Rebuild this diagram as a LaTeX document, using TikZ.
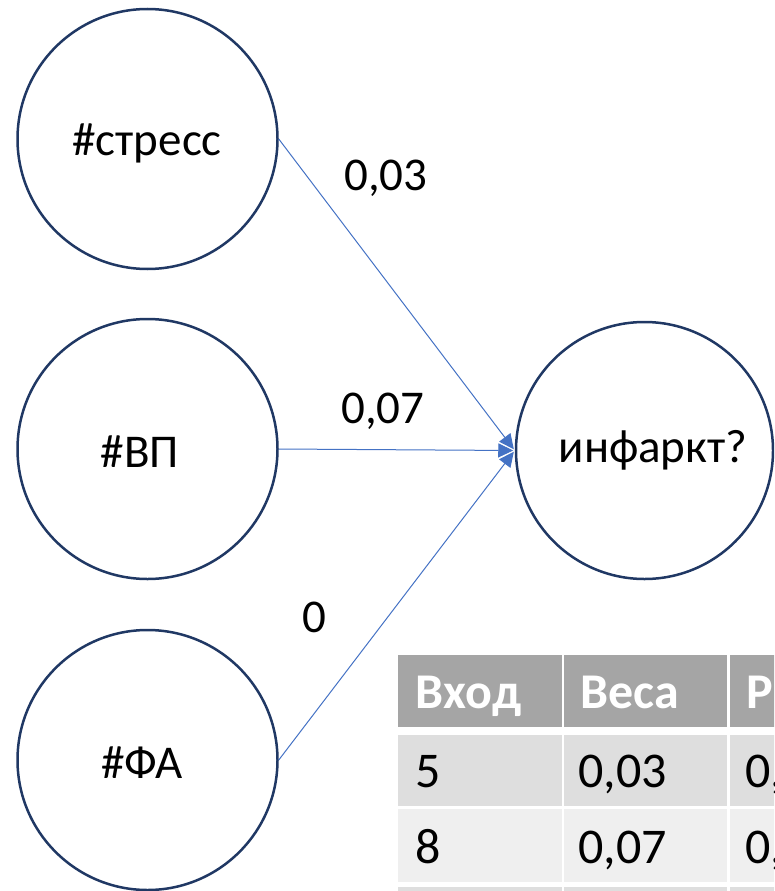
\documentclass[tikz,border=0pt]{standalone}
\usepackage{fontspec}
\setmainfont{Carlito}
\usetikzlibrary{arrows.meta}
\definecolor{ringc}{HTML}{203864}
\definecolor{linkc}{HTML}{4472C4}
\definecolor{headc}{HTML}{A5A5A5}
\definecolor{rowa}{HTML}{DEDEDE}
\definecolor{rowb}{HTML}{EFEFEF}
\begin{document}
\begin{tikzpicture}[x=1pt,y=-1pt,
  neuron/.style={circle,draw=ringc,line width=2.5pt,minimum size=260pt,inner sep=0pt},
  lbl/.style={inner sep=0pt,anchor=base,font=\fontsize{47}{56}\selectfont},
  link/.style={draw=linkc,line width=1pt,shorten >=1.5pt,-{Triangle[length=15pt,width=14pt]}},
  cell/.style={rectangle,inner sep=0pt,anchor=north west,draw=none},
  ctext/.style={inner sep=0pt,anchor=base west,font=\fontsize{50}{60}\selectfont},
  htext/.style={inner sep=0pt,anchor=base west,font=\fontsize{50}{60}\selectfont\bfseries,text=white}]
\useasboundingbox (0,0) rectangle (774,891);
\clip (0,0) rectangle (774,891);

% neurons
\node[neuron] (s) at (147.5,139) {};
\node[neuron] (v) at (147.5,449) {};
\node[neuron] (f) at (147.5,760) {};
\node[neuron,minimum size=257pt] (i) at (644.5,450.5) {};

\node[lbl] (ts) at (147,155) {\#стресс};
\node[lbl] (tv) at (140,467) {\#ВП};
\node[lbl] (tf) at (142,778) {\#ФА};
\node[lbl] (ti) at (653,462) {инфаркт?};

% links
\draw[link] (s.east) -- (i.west);
\draw[link] (v.east) -- (i.west);
\draw[link] (f.east) -- (i.west);

\node[lbl] (w1) at (386,190) {0,03};
\node[lbl] (w2) at (383,423) {0,07};
\node[lbl] (w3) at (314,632) {0};

% table cells
\node[cell,fill=headc,minimum width=164pt,minimum height=72pt] (h1) at (398,655) {};
\node[cell,fill=headc,minimum width=163pt,minimum height=72pt] (h2) at (564,655) {};
\node[cell,fill=headc,minimum width=70pt,minimum height=72pt] (h3) at (730,655) {};
\node[cell,fill=rowa,minimum width=164pt,minimum height=71pt] (a1) at (398,735) {};
\node[cell,fill=rowa,minimum width=163pt,minimum height=71pt] (a2) at (564,735) {};
\node[cell,fill=rowa,minimum width=70pt,minimum height=71pt] (a3) at (730,735) {};
\node[cell,fill=rowb,minimum width=164pt,minimum height=73pt] (b1) at (398,809) {};
\node[cell,fill=rowb,minimum width=163pt,minimum height=73pt] (b2) at (564,809) {};
\node[cell,fill=rowb,minimum width=70pt,minimum height=73pt] (b3) at (730,809) {};
\node[cell,fill=rowa,minimum width=164pt,minimum height=13pt] (c1) at (398,887) {};
\node[cell,fill=rowa,minimum width=163pt,minimum height=13pt] (c2) at (564,887) {};
\node[cell,fill=rowa,minimum width=70pt,minimum height=13pt] (c3) at (730,887) {};

% table texts
\node[htext] (th1) at (415,708) {Вход};
\node[htext] (th2) at (580,708) {Веса};
\node[htext] (th3) at (746,708) {Р};
\node[ctext] (ta1) at (415,787) {5};
\node[ctext] (ta2) at (578,787) {0,03};
\node[ctext] (ta3) at (745,787) {0,};
\node[ctext] (tb1) at (415,863) {8};
\node[ctext] (tb2) at (578,863) {0,07};
\node[ctext] (tb3) at (745,863) {0,};
\end{tikzpicture}
\end{document}
